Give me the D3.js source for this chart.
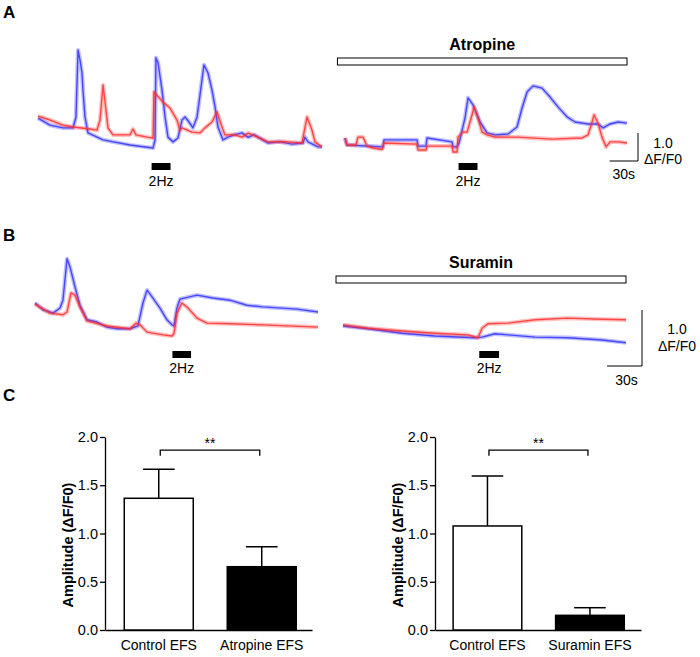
<!DOCTYPE html>
<html><head><meta charset="utf-8">
<script src="https://cdn.jsdelivr.net/npm/d3@7"></script>
<style>
body{margin:0;background:#fff}
svg{display:block}
text{font-family:Arial,"Liberation Sans",sans-serif;fill:#000}
</style>
</head><body>
<svg id="c" width="700" height="657"></svg>
<script>
// ---------- DATA: traces (time s, ΔF/F0) ----------
const aLeftBlue = [[0,1.14],[12.7,0.89],[26.4,0.79],[37,0.79],[40.1,1.18],[42.3,3.57],[44.4,3.21],[46.5,2.75],[47.5,2.14],[49.6,1.18],[52.8,0.61],[68.7,0.36],[97.2,0.18],[121.5,0.07],[123.6,0.36],[124.6,3.29],[126.8,3.11],[131,2.14],[134.2,1.18],[137.3,0.46],[142.6,0.29],[147.9,0.43],[152.1,1.07],[155.3,1.18],[159.5,1.0],[163.7,0.79],[168,1.18],[171.1,1.96],[175.3,3.04],[179.6,2.75],[183.8,2.14],[187,1.54],[190.1,0.82],[195.4,0.36],[200.7,0.46],[208,0.55],[215.5,0.61],[222,0.45],[228,0.55],[232.4,0.46],[243,0.25],[255,0.3],[268.3,0.21],[280,0.25],[282,0.46],[285.2,0.29],[295.8,0.11],[300,0.11]];
const aLeftRed = [[0,1.21],[12.7,1.07],[26.4,0.89],[37,0.82],[54.9,0.75],[62.3,0.71],[65.5,1.07],[68.7,2.32],[71.8,1.43],[73.9,0.79],[79.2,0.54],[97.2,0.54],[100.3,0.75],[103.5,0.54],[115.1,0.46],[121.5,0.43],[122.5,2.07],[132,1.71],[139.4,1.5],[146.8,1.07],[150,0.71],[152.1,0.79],[162.7,0.64],[171.1,0.61],[176.4,0.79],[183.8,1.0],[189.1,1.36],[194.4,0.82],[197.5,0.54],[207,0.55],[215.5,0.46],[222,0.6],[232.4,0.46],[243,0.29],[260,0.3],[278.9,0.25],[284.2,1.18],[289.4,0.71],[292.6,0.29],[300,0.11]];
const aRightBlue = [[0,0.43],[2.1,0.18],[40.2,0.11],[41.2,0.36],[76.1,0.36],[77.2,0.14],[85.6,0.14],[86.7,0.43],[113.1,0.29],[114.2,0.11],[118.4,0.11],[120.5,0.25],[126.8,1.14],[130,1.86],[135.3,1.61],[142.7,1.0],[150.1,0.61],[158.6,0.54],[172.3,0.57],[181.8,0.82],[187.1,1.5],[192.4,2.07],[198.7,2.29],[208.2,2.21],[216.7,1.89],[225.1,1.54],[234.7,1.18],[243.1,1.0],[256.9,0.93],[267.4,0.93],[272.7,0.79],[280.1,0.93],[288.6,1.0],[298,0.96]];
const aRightRed = [[0,0.43],[2.1,0.18],[11.6,0.18],[13.7,0.46],[19,0.46],[23.3,0.14],[29.6,0.07],[39.1,0.02],[41.2,0.25],[76.1,0.21],[77.2,0.0],[85.6,0.0],[86.7,0.14],[113.1,0.14],[114.2,-0.07],[118.4,-0.07],[119.4,0.46],[124.7,0.64],[129,0.64],[134.2,1.25],[136.4,1.54],[140.6,1.14],[144.8,0.64],[150.1,0.54],[158.6,0.46],[182.9,0.46],[218.8,0.39],[250.5,0.43],[256.9,0.54],[261.1,1.0],[263.2,1.25],[267.4,0.96],[271.6,0.46],[275.9,0.11],[280.1,0.29],[288.6,0.29],[298,0.25]];
const bLeftBlue = [[0,0.75],[6.9,0.63],[15.5,0.57],[21.5,0.66],[24,0.8],[27.5,1.54],[30.1,1.39],[34.3,1.04],[38.6,0.71],[44.7,0.45],[53.2,0.41],[61.8,0.32],[70.4,0.29],[81.6,0.29],[88.4,0.34],[92.7,0.75],[96.2,0.98],[100.5,0.86],[107.3,0.66],[113.3,0.45],[117.6,0.36],[119.4,0.34],[121.9,0.66],[124.5,0.82],[139.1,0.89],[152.8,0.84],[167.4,0.8],[182,0.71],[195.8,0.68],[225,0.64],[243,0.59]];
const bLeftRed = [[0,0.73],[12.9,0.57],[24,0.54],[27.5,0.59],[30.9,0.93],[34.3,0.89],[38.6,0.68],[44.7,0.43],[61.8,0.34],[81.6,0.29],[86.7,0.39],[90.2,0.36],[96.2,0.23],[109.9,0.18],[117.6,0.16],[119.4,0.21],[121.9,0.57],[126.2,0.75],[131.4,0.66],[139.1,0.48],[147.7,0.39],[167.4,0.38],[195.8,0.36],[243,0.32]];
const bRightBlue = [[0,0.34],[21.5,0.29],[50.7,0.21],[79,0.16],[113.3,0.13],[119.4,0.14],[130.5,0.2],[141.7,0.18],[164.9,0.14],[193.2,0.13],[222.4,0.09],[243,0.04]];
const bRightRed = [[0,0.36],[21.5,0.3],[50.7,0.25],[79,0.21],[107.3,0.18],[115.9,0.13],[119.4,0.3],[124.5,0.38],[141.7,0.39],[164.9,0.45],[193.2,0.48],[222.4,0.46],[243,0.45]];

// stimulation periods (s) and drug application periods (s)
const stimA = [[120,140],[120,140]];
const stimB = [[118,134],[117,134]];
const drugA = [-8,298];
const drugB = [-6,243];
const drugNames = ["Atropine","Suramin"];
const scaleBarTime = 30;    // s
const scaleBarAmp = 1.0;    // ΔF/F0

// ---------- DATA: bar charts ----------
const catsAtropine = ["Control EFS","Atropine EFS"];
const meanAtropine = [1.365, 0.656];
const semAtropine = [0.30, 0.207];
const catsSuramin = ["Control EFS","Suramin EFS"];
const meanSuramin = [1.078, 0.152];
const semSuramin = [0.518, 0.079];
const yTicks = [0, 0.5, 1.0, 1.5, 2.0];
const sigLevel = 1.865;

// ---------- DRAWING ----------
const svg = d3.select("#c");
const BLUE = "#3030ff", RED = "#ff2e2e";

function letter(t, x, y){
  svg.append("text").attr("x",x).attr("y",y).attr("font-size",17).attr("font-weight","bold").text(t);
}
letter("A",3,18); letter("B",3,241); letter("C",3,401);

function trace(g, data, x, y, color){
  const line = d3.line().x(d=>x(d[0])).y(d=>y(d[1]));
  g.append("path").datum(data).attr("d",line).attr("fill","none")
    .attr("stroke",color).attr("stroke-width",4.2).attr("stroke-opacity",0.3).attr("stroke-linejoin","round");
  g.append("path").datum(data).attr("d",line).attr("fill","none")
    .attr("stroke",color).attr("stroke-width",1.4).attr("stroke-opacity",0.85).attr("stroke-linejoin","round");
}

function stim(g, x, s, y0, fontY){
  g.append("rect").attr("x",x(s[0])).attr("y",y0).attr("width",x(s[1])-x(s[0])).attr("height",7).attr("fill","#000");
  g.append("text").attr("x",(x(s[0])+x(s[1]))/2).attr("y",fontY).attr("text-anchor","middle").attr("font-size",14).text("2Hz");
}

function tracePanel(cfg){
  const g = svg.append("g");
  const y = d3.scaleLinear().domain(cfg.yDomain).range(cfg.yRange);
  const xl = d3.scaleLinear().domain([0,cfg.tL]).range(cfg.xL);
  const xr = d3.scaleLinear().domain([0,cfg.tR]).range(cfg.xR);
  trace(g, cfg.lb, xl, y, BLUE); trace(g, cfg.lr, xl, y, RED);
  trace(g, cfg.rb, xr, y, BLUE); trace(g, cfg.rr, xr, y, RED);
  stim(g, xl, cfg.stim[0], cfg.stimY, cfg.stimTextY);
  stim(g, xr, cfg.stim[1], cfg.stimY, cfg.stimTextY);
  g.append("rect").attr("x",xr(cfg.drug[0])).attr("y",cfg.drugY).attr("width",xr(cfg.drug[1])-xr(cfg.drug[0]))
    .attr("height",7).attr("fill","#fff").attr("stroke","#000").attr("stroke-width",1);
  g.append("text").attr("x",(xr(cfg.drug[0])+xr(cfg.drug[1]))/2).attr("y",cfg.drugY-8)
    .attr("text-anchor","middle").attr("font-size",16).attr("font-weight","bold").text(cfg.name);
  const sx = cfg.sbX, sy = cfg.sbY;
  const w = xr(scaleBarTime) - xr(0), h = y(0) - y(scaleBarAmp);
  g.append("path").attr("d",`M${sx-w},${sy}H${sx}V${sy-h}`).attr("fill","none").attr("stroke","#000").attr("stroke-width",1);
  g.append("text").attr("x",sx+cfg.lblDX).attr("y",cfg.lbl1Y).attr("text-anchor","middle").attr("font-size",14).text("1.0");
  g.append("text").attr("x",sx+cfg.lblDX).attr("y",cfg.lbl2Y).attr("text-anchor","middle").attr("font-size",14).text("ΔF/F0");
  g.append("text").attr("x",sx-w/2+cfg.sDX).attr("y",cfg.sY).attr("text-anchor","middle").attr("font-size",14).text("30s");
}

tracePanel({yDomain:[0,4],yRange:[150,38],tL:300,xL:[38,322],tR:298,xR:[345,627],
  lb:aLeftBlue,lr:aLeftRed,rb:aRightBlue,rr:aRightRed,stim:stimA,stimY:163,stimTextY:186,
  drug:drugA,drugY:58,name:drugNames[0],sbX:638,sbY:161,lblDX:25,lbl1Y:148,lbl2Y:164,sDX:0,sY:179});
tracePanel({yDomain:[0,2],yRange:[345,233],tL:243,xL:[35,318],tR:243,xR:[343,626],
  lb:bLeftBlue,lr:bLeftRed,rb:bRightBlue,rr:bRightRed,stim:stimB,stimY:351,stimTextY:373,
  drug:drugB,drugY:276,name:drugNames[1],sbX:642,sbY:366,lblDX:35,lbl1Y:334,lbl2Y:351,sDX:2,sY:385});

function barChart(cfg){
  const g = svg.append("g");
  const x = d3.scaleBand().domain(cfg.cats).range(cfg.xRange).paddingInner(0.33).paddingOuter(0.17).align(cfg.align);
  const y = d3.scaleLinear().domain([0,2]).range([630,437]);
  const yAxis = d3.axisLeft(y).tickValues(yTicks).tickFormat(d3.format(".1f")).tickSize(5).tickSizeOuter(0).tickPadding(2);
  const ya = g.append("g").attr("transform",`translate(${cfg.xRange[0]},0)`).call(yAxis);
  ya.selectAll("text").attr("font-size",14.5).style("font-family","Arial, 'Liberation Sans', sans-serif");
  ya.selectAll("path,line").attr("stroke","#000").attr("stroke-width",1.3);
  const xAxis = d3.axisBottom(x).tickSize(0).tickSizeOuter(0).tickPadding(10);
  const xa = g.append("g").attr("transform","translate(0,630)").call(xAxis);
  xa.selectAll("text").attr("font-size",14).style("font-family","Arial, 'Liberation Sans', sans-serif");
  xa.selectAll("path").attr("stroke","#000").attr("stroke-width",1.3);
  g.selectAll("rect.bar").data(cfg.cats).join("rect").attr("class","bar")
    .attr("x",d=>x(d)).attr("width",x.bandwidth())
    .attr("y",(d,i)=>y(cfg.mean[i])).attr("height",(d,i)=>y(0)-y(cfg.mean[i]))
    .attr("fill",(d,i)=>i===0?"#fff":"#000").attr("stroke","#000").attr("stroke-width",1.5);
  const cw = x.bandwidth()*0.46;
  cfg.cats.forEach((c,i)=>{
    const cx = x(c)+x.bandwidth()/2;
    g.append("line").attr("x1",cx).attr("x2",cx).attr("y1",y(cfg.mean[i])).attr("y2",y(cfg.mean[i]+cfg.sem[i])).attr("stroke","#000").attr("stroke-width",1.5);
    g.append("line").attr("x1",cx-cw/2).attr("x2",cx+cw/2).attr("y1",y(cfg.mean[i]+cfg.sem[i])).attr("y2",y(cfg.mean[i]+cfg.sem[i])).attr("stroke","#000").attr("stroke-width",1.5);
  });
  const c0 = x(cfg.cats[0])+x.bandwidth()/2+1.5, c1 = x(cfg.cats[1])+x.bandwidth()/2-2;
  const yb = y(sigLevel), yl = y(sigLevel-0.06);
  g.append("path").attr("d",`M${c0},${yl}V${yb}H${c1}V${yl}`).attr("fill","none").attr("stroke","#000").attr("stroke-width",1.3);
  g.append("text").attr("x",(c0+c1)/2).attr("y",yb-2).attr("text-anchor","middle").attr("font-size",14).text("**");
  g.append("text").attr("transform",`translate(${cfg.labelX},545) rotate(-90)`).attr("text-anchor","middle")
    .attr("font-size",14.5).attr("font-weight","bold").text("Amplitude (ΔF/F0)");
}
barChart({cats:catsAtropine,mean:meanAtropine,sem:semAtropine,xRange:[105,312],align:0.55,labelX:73});
barChart({cats:catsSuramin,mean:meanSuramin,sem:semSuramin,xRange:[435,641],align:0.52,labelX:403});
</script>
</body></html>
